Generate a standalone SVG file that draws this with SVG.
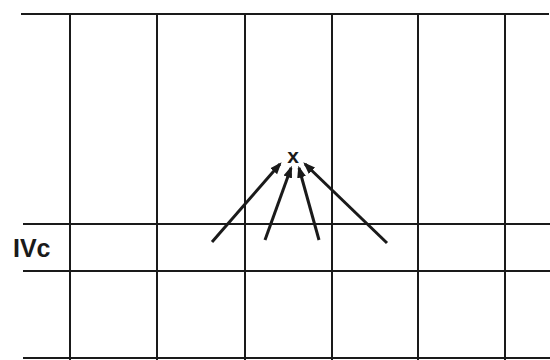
<svg xmlns="http://www.w3.org/2000/svg" width="550" height="360" viewBox="0 0 550 360">
<style>
.grid{stroke:#1a1a1a;stroke-width:2;fill:none}
.arr{stroke:#1a1a1a;stroke-width:3;fill:none;marker-end:url(#ah)}
.lbl{font-family:"Liberation Sans",Arial,sans-serif;font-weight:bold;fill:#1a1a1a}
</style>
<defs>
<marker id="ah" markerWidth="4" markerHeight="4" refX="3.2" refY="2" orient="auto" markerUnits="strokeWidth">
<path d="M0,0.5 L4,2 L0,3.5 Z" fill="#1a1a1a"/>
</marker>
</defs>
<rect width="550" height="360" fill="#fff"/>
<g id="grid">
<line class="grid" x1="21" y1="14" x2="549" y2="14"/>
<line class="grid" x1="23" y1="224" x2="550" y2="224"/>
<line class="grid" x1="23" y1="271" x2="550" y2="271"/>
<line class="grid" x1="23" y1="358" x2="550" y2="358"/>
<line class="grid" x1="70" y1="14" x2="70" y2="360"/>
<line class="grid" x1="157" y1="14" x2="157" y2="360"/>
<line class="grid" x1="245" y1="14" x2="245" y2="360"/>
<line class="grid" x1="332" y1="14" x2="332" y2="360"/>
<line class="grid" x1="418" y1="14" x2="418" y2="360"/>
<line class="grid" x1="505" y1="14" x2="505" y2="360"/>
</g>
<g id="label">
<text class="lbl" x="13" y="257" font-size="25">IVc</text>
</g>
<g id="point-x">
<text class="lbl" x="293" y="163" text-anchor="middle" font-size="21">x</text>
</g>
<g id="connectors">
<line class="arr" x1="212" y1="242" x2="280" y2="164"/>
<line class="arr" x1="265" y1="240" x2="291" y2="168"/>
<line class="arr" x1="319" y1="240" x2="299" y2="168"/>
<line class="arr" x1="387" y1="243" x2="305" y2="164"/>
</g>
</svg>
